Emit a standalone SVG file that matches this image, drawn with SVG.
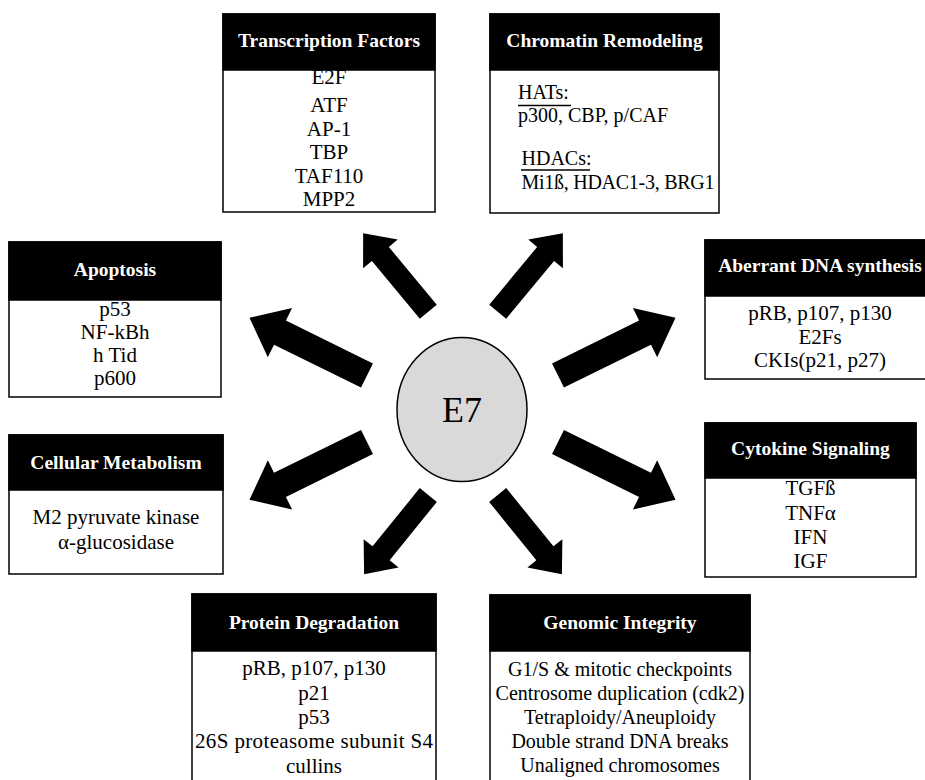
<svg xmlns="http://www.w3.org/2000/svg" xmlns:xlink="http://www.w3.org/1999/xlink" width="925" height="780" viewBox="0 0 925 780">
<style>
.box{fill:#fff;stroke:#000;stroke-width:1.5}
.hdr{fill:#000;stroke:#000;stroke-width:1.5}
.ttl{font-family:"Liberation Serif",serif;font-weight:bold;font-size:19.5px;fill:#fff;text-anchor:middle}
.bd{font-family:"Liberation Serif",serif;font-size:21px;fill:#000;text-anchor:middle}
.bdg{font-family:"Liberation Serif",serif;font-size:20px;fill:#000;text-anchor:middle}
.bd20{font-family:"Liberation Serif",serif;font-size:20px;fill:#000}
.ul{stroke:#000;stroke-width:1.5}
.arr{fill:#000}
</style>
<defs>
<path id="arrD" d="M0,-11 L75,-11 L75,-22.5 L102,0 L75,22.5 L75,11 L0,11 Z"/>
<path id="arrS" d="M0,-13.5 L97,-13.5 L97,-27.5 L131,0 L97,27.5 L97,13.5 L0,13.5 Z"/>
</defs>
<rect width="925" height="780" fill="#fff"/>
<g id="connectors" class="arr">
<use xlink:href="#arrD" href="#arrD" transform="translate(428.3,311.7) rotate(-129.7)"/>
<use xlink:href="#arrD" href="#arrD" transform="translate(497.7,311.7) rotate(-50.3)"/>
<use xlink:href="#arrS" href="#arrS" transform="translate(367,375.5) rotate(-153.8)"/>
<use xlink:href="#arrS" href="#arrS" transform="translate(558,375.5) rotate(-26.2)"/>
<use xlink:href="#arrS" href="#arrS" transform="translate(367,442) rotate(153.8)"/>
<use xlink:href="#arrS" href="#arrS" transform="translate(558,442) rotate(26.2)"/>
<use xlink:href="#arrD" href="#arrD" transform="translate(428.3,495) rotate(129)"/>
<use xlink:href="#arrD" href="#arrD" transform="translate(497.7,495) rotate(51)"/>
</g>
<g id="e7">
<ellipse cx="462" cy="409.5" rx="65" ry="72" fill="#d9d9d9" stroke="#000" stroke-width="1.5"/>
<text x="462" y="422" font-family="Liberation Serif,serif" font-size="36" text-anchor="middle">E7</text>
</g>
<g id="transcription-factors">
<rect class="box" x="223" y="14" width="212" height="198"/>
<text class="bd" x="329" y="84">E2F</text>
<text class="bd" x="329" y="112">ATF</text>
<text class="bd" x="329" y="135.5">AP-1</text>
<text class="bd" x="329" y="159">TBP</text>
<text class="bd" x="329" y="182.5">TAF110</text>
<text class="bd" x="329" y="206">MPP2</text>
<rect class="hdr" x="223" y="14" width="212" height="56"/>
<text class="ttl" x="329" y="47">Transcription Factors</text>
</g>
<g id="chromatin-remodeling">
<rect class="box" x="490" y="14" width="229" height="199"/>
<rect class="hdr" x="490" y="14" width="229" height="56"/>
<text class="ttl" x="604.5" y="47">Chromatin Remodeling</text>
<text class="bd20" x="518" y="99">HATs:</text>
<line class="ul" x1="518" y1="105.5" x2="571" y2="105.5"/>
<text class="bd20" x="518" y="121.5">p300, CBP, p/CAF</text>
<text class="bd20" x="521.5" y="165">HDACs:</text>
<line class="ul" x1="521" y1="170" x2="590" y2="170"/>
<text class="bd20" x="521.5" y="188.5" textLength="193">Mi1ß, HDAC1-3, BRG1</text>
</g>
<g id="apoptosis">
<rect class="box" x="9" y="242" width="212" height="155"/>
<text class="bd" x="115" y="316">p53</text>
<text class="bd" x="115" y="339">NF-kBh</text>
<text class="bd" x="115" y="362">h Tid</text>
<text class="bd" x="115" y="385">p600</text>
<rect class="hdr" x="9" y="242" width="212" height="58"/>
<text class="ttl" x="115" y="276">Apoptosis</text>
</g>
<g id="aberrant-dna-synthesis">
<rect class="box" x="705" y="240" width="232" height="139"/>
<rect class="hdr" x="705" y="240" width="232" height="56"/>
<text class="ttl" x="820" y="272">Aberrant DNA synthesis</text>
<text class="bd" x="820" y="320">pRB, p107, p130</text>
<text class="bd" x="820" y="344">E2Fs</text>
<text class="bd" x="820" y="367">CKIs(p21, p27)</text>
</g>
<g id="cellular-metabolism">
<rect class="box" x="9" y="435" width="214" height="139"/>
<rect class="hdr" x="9" y="435" width="214" height="55"/>
<text class="ttl" x="116" y="468.5">Cellular Metabolism</text>
<text class="bd" x="116" y="524">M2 pyruvate kinase</text>
<text class="bd" x="116" y="549">α-glucosidase</text>
</g>
<g id="cytokine-signaling">
<rect class="box" x="705" y="423" width="211" height="154"/>
<rect class="hdr" x="705" y="423" width="211" height="55"/>
<text class="ttl" x="810.5" y="455">Cytokine Signaling</text>
<text class="bd" x="810.5" y="495">TGFß</text>
<text class="bd" x="810.5" y="520">TNFα</text>
<text class="bd" x="810.5" y="544">IFN</text>
<text class="bd" x="810.5" y="568">IGF</text>
</g>
<g id="protein-degradation">
<rect class="box" x="192" y="594" width="244" height="210"/>
<rect class="hdr" x="192" y="594" width="244" height="57"/>
<text class="ttl" x="314" y="629">Protein Degradation</text>
<text class="bd" x="314" y="675">pRB, p107, p130</text>
<text class="bd" x="314" y="700">p21</text>
<text class="bd" x="314" y="723.5">p53</text>
<text class="bd" x="314" y="748" textLength="238">26S proteasome subunit S4</text>
<text class="bd" x="314" y="773">cullins</text>
</g>
<g id="genomic-integrity">
<rect class="box" x="490" y="595" width="260" height="210"/>
<rect class="hdr" x="490" y="595" width="260" height="56"/>
<text class="ttl" x="620" y="629">Genomic Integrity</text>
<text class="bdg" x="620" y="675.5">G1/S &amp; mitotic checkpoints</text>
<text class="bdg" x="620" y="699.5">Centrosome duplication (cdk2)</text>
<text class="bdg" x="620" y="723.5">Tetraploidy/Aneuploidy</text>
<text class="bdg" x="620" y="747.5">Double strand DNA breaks</text>
<text class="bdg" x="620" y="771.5">Unaligned chromosomes</text>
</g>
</svg>
